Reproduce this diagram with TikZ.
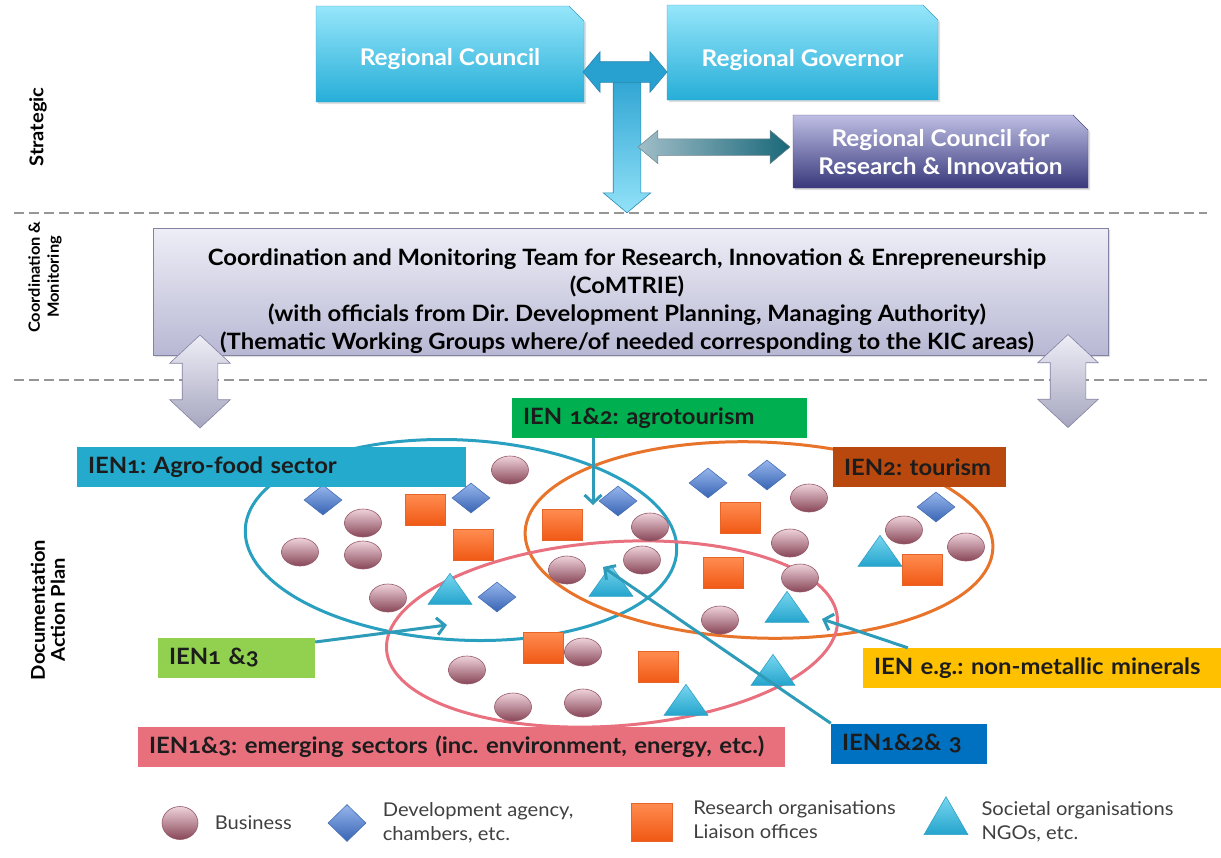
\documentclass[tikz,border=0pt]{standalone}
\usepackage{fontspec}
\setmainfont{Lato}[Numbers=OldStyle, FakeStretch=1.06]
\usepackage{tikz}
\usetikzlibrary{arrows.meta, positioning, shapes.geometric, shapes.misc, shapes.arrows, shadows}
\frenchspacing

\definecolor{cyantop}{RGB}{150,230,250}
\definecolor{cyanbot}{RGB}{38,174,216}
\definecolor{cyanedge}{RGB}{60,160,200}
\definecolor{purptop}{RGB}{190,190,228}
\definecolor{purpbot}{RGB}{56,56,124}
\definecolor{purpedge}{RGB}{80,80,130}
\definecolor{lavtop}{RGB}{238,238,247}
\definecolor{lavbot}{RGB}{184,184,212}
\definecolor{lavedge}{RGB}{130,130,162}
\definecolor{tdark}{RGB}{40,160,208}
\definecolor{tlight}{RGB}{146,226,248}
\definecolor{tedge}{RGB}{40,136,176}
\definecolor{rcleft}{RGB}{160,190,200}
\definecolor{rcmid}{RGB}{222,236,250}
\definecolor{rcright}{RGB}{26,104,122}
\definecolor{dashgray}{RGB}{150,150,150}
\definecolor{ienteal}{RGB}{36,170,204}
\definecolor{iengreen}{RGB}{0,176,80}
\definecolor{ienbrown}{RGB}{184,72,14}
\definecolor{ienlime}{RGB}{146,208,80}
\definecolor{ienyellow}{RGB}{255,192,0}
\definecolor{ienpink}{RGB}{232,112,124}
\definecolor{ienblue}{RGB}{0,112,192}
\definecolor{lbltext}{RGB}{28,28,28}
\definecolor{ringteal}{RGB}{42,160,192}
\definecolor{ringorange}{RGB}{232,115,42}
\definecolor{ringpink}{RGB}{232,112,127}
\definecolor{linkteal}{RGB}{46,156,184}
\definecolor{biztop}{RGB}{238,210,218}
\definecolor{bizbot}{RGB}{136,70,88}
\definecolor{bizedge}{RGB}{150,90,105}
\definecolor{agtop}{RGB}{150,182,236}
\definecolor{agbot}{RGB}{56,100,180}
\definecolor{agedge}{RGB}{70,110,180}
\definecolor{restop}{RGB}{255,140,80}
\definecolor{resbot}{RGB}{240,88,20}
\definecolor{resedge}{RGB}{230,100,40}
\definecolor{soctop}{RGB}{120,214,240}
\definecolor{socbot}{RGB}{36,164,204}
\definecolor{socedge}{RGB}{50,160,200}
\definecolor{legtext}{RGB}{64,64,64}

\tikzset{
  topbox/.style={chamfered rectangle, chamfered rectangle corners=north east,
    chamfered rectangle xsep=13pt, chamfered rectangle ysep=15pt, inner sep=0pt,
    align=center, text=white, font=\fontsize{23}{28}\selectfont\bfseries,
    drop shadow={opacity=0.25, shadow xshift=2pt, shadow yshift=-2pt}},
  seclbl/.style={rotate=90, align=center, font=\fontsize{19}{20}\selectfont\bfseries},
  sepline/.style={dashgray, line width=2.5pt, dash pattern=on 10pt off 5pt},
  ienlbl/.style={rectangle, minimum height=40pt, inner xsep=11pt, inner ysep=0pt,
    align=left, text=lbltext, font=\fontsize{22.5}{24}\selectfont\bfseries},
  ring/.style={ellipse, draw, line width=3pt, inner sep=0pt},
  link/.style={linkteal, line width=3pt, -{Straight Barb[length=8pt,width=17pt]}},
  bizdot/.style={ellipse, minimum width=37pt, minimum height=28pt, inner sep=0pt,
    top color=biztop, bottom color=bizbot, draw=bizedge, line width=0.6pt},
  agency/.style={diamond, minimum width=38pt, minimum height=30pt, inner sep=0pt,
    top color=agtop, bottom color=agbot, draw=agedge, line width=0.6pt},
  research/.style={rectangle, minimum width=40pt, minimum height=31pt, inner sep=0pt,
    top color=restop, bottom color=resbot, draw=resedge, line width=0.6pt},
  society/.style={isosceles triangle, isosceles triangle stretches, shape border rotate=90,
    minimum width=44pt, minimum height=31pt, inner sep=0pt,
    top color=soctop, bottom color=socbot, draw=socedge, line width=0.6pt},
  legtxt/.style={align=left, text=legtext, font=\fontsize{19}{24}\selectfont}
}

\begin{document}
\begin{tikzpicture}[x=1pt, y=-1pt]
  \useasboundingbox (0,0) rectangle (1221,857);

  % --- section labels and separators ---
  \node[seclbl] (lstrat) at (38,127) {Strategic};
  \node[seclbl, font=\fontsize{15.5}{19}\selectfont\bfseries] (lcoord) at (45,277) {Coordination \&\\Monitoring};
  \node[seclbl] (ldoc) at (48,610) {Documentation\\Action Plan};
  \draw[sepline] (14,213) -- (1207,213);
  \draw[sepline] (14,380) -- (1207,380);

  % --- Strategic level ---
  \node[topbox, top color=cyantop, bottom color=cyanbot, draw=cyanedge,
    minimum width=268pt, minimum height=96pt] (rc) at (450,54)
    {\raisebox{-11pt}[0pt][0pt]{Regional Council}};
  \node[topbox, top color=cyantop, bottom color=cyanbot, draw=cyanedge,
    minimum width=271pt, minimum height=95pt] (rg) at (802.5,52.5)
    {\raisebox{-13.5pt}[0pt][0pt]{Regional Governor}};
  \node[topbox, top color=purptop, bottom color=purpbot, draw=purpedge,
    minimum width=295pt, minimum height=73pt] (rcri) at (940.5,151.5)
    {\raisebox{-10pt}[0pt][0pt]{\begin{tabular}{@{}c@{}}Regional Council for\\Research \& Innovation\end{tabular}}};
  % T arrow between council and governor, down to the team
  \node[single arrow, shape border rotate=270, inner sep=13.5pt, single arrow head extend=10pt,
    single arrow tip angle=100, minimum height=144pt, top color=tdark, bottom color=tlight,
    draw=tedge, line width=0.6pt] (tstem) at (627,135) {};
  \node[double arrow, inner sep=10pt, double arrow head extend=10pt, double arrow tip angle=100,
    minimum height=84pt, fill=tdark, draw=tedge, line width=0.6pt] (tbar) at (625,72) {};
  \node[double arrow, inner sep=8pt, double arrow head extend=8.5pt, double arrow tip angle=80,
    minimum height=152pt, left color=rcleft, middle color=rcmid, right color=rcright,
    draw=rcleft!70!black, line width=0.5pt] (rcarrow) at (714,147) {};

  % --- Coordination & Monitoring ---
  \node[chamfered rectangle, chamfered rectangle corners=north east,
    chamfered rectangle xsep=20pt, chamfered rectangle ysep=19pt, inner sep=0pt,
    minimum width=955pt, minimum height=127pt, top color=lavtop, bottom color=lavbot,
    draw=lavedge, line width=0.6pt,
    drop shadow={opacity=0.25, shadow xshift=2pt, shadow yshift=-2pt}] (comtrie) at (630.5,291.5) {};
  \node[align=center, font=\fontsize{22.5}{28}\selectfont\bfseries] (comtrietxt) at (627,301)
    {Coordination and Monitoring Team for Research, Innovation \& Enrepreneurship\\
     (CoMTRIE)\\
     (with officials from Dir. Development Planning, Managing Authority)\\
     (Thematic Working Groups where/of needed corresponding to the KIC areas)};
  \node[double arrow, shape border rotate=90, inner sep=17.5pt, double arrow head extend=12.5pt,
    double arrow tip angle=94, minimum height=93pt, top color=lavtop, bottom color=lavbot!90!black,
    draw=lavedge, line width=0.6pt] (gleft) at (200,381.5) {};
  \node[double arrow, shape border rotate=90, inner sep=17.5pt, double arrow head extend=12.5pt,
    double arrow tip angle=94, minimum height=93pt, top color=lavtop, bottom color=lavbot!90!black,
    draw=lavedge, line width=0.6pt] (gright) at (1068,381) {};

  % --- Documentation / Action Plan ---
  \node[ring, draw=ringteal, minimum width=432pt, minimum height=200pt, rotate=-3] (ring1) at (461,540) {};
  \node[ring, draw=ringorange, minimum width=468pt, minimum height=196pt, rotate=-2] (ring2) at (759,540) {};
  \node[ring, draw=ringpink, minimum width=452pt, minimum height=184pt, rotate=4] (ring3) at (612,634) {};

  \foreach \p [count=\i] in {(510,470),(363,523),(300,552),(363,555),(388,598),(650,527),
      (642,560),(567,570),(809,498),(790,543),(800,578),(720,620),(904,530),(966,547),
      (583,652),(467,670),(513,707),(583,703)}
    \node[bizdot] (biz\i) at \p {};
  \foreach \p [count=\i] in {(323,500),(471,498),(618,501),(497,597),(708,483),(767,475),(936,507)}
    \node[agency] (ag\i) at \p {};
  \foreach \p [count=\i] in {(425,510),(473,545),(562,525),(740,518),(723,573),(543,648),(658,667),(922,570)}
    \node[research] (res\i) at \p {};
  \foreach \p [count=\i] in {(450,593),(611,585),(787,611),(773,674),(686,704),(880,555)}
    \node[society] (soc\i) at \p {};

  % labels
  \node[ienlbl, fill=iengreen, text width=273pt] (agro) at (659.5,418) {IEN 1\&2: agrotourism};
  \node[ienlbl, fill=ienteal, text width=367pt] (ien1) at (271.5,467) {IEN1: Agro-food sector};
  \node[ienlbl, fill=ienbrown, text width=151pt] (ien2) at (919.5,467) {IEN2: tourism};
  \node[ienlbl, fill=ienlime, text width=135pt] (i13) at (236.5,658) {IEN1 \&3};
  \node[ienlbl, fill=ienyellow, text width=336pt] (minerals) at (1042,668) {IEN e.g.: non-metallic minerals};
  \node[ienlbl, fill=ienpink, text width=625pt] (emerg) at (461.5,747) {IEN1\&3: emerging sectors (inc. environment, energy, etc.)};
  \node[ienlbl, fill=ienblue, text width=134pt] (i123) at (909,743.5) {IEN1\&2\& 3};

  % arrows to the overlaps
  \coordinate (tipagro) at (593,505);
  \coordinate (tipi13) at (447,625);
  \coordinate (tipmin) at (822,619);
  \coordinate (tipall) at (603,567);
  \draw[link] (agro.south -| tipagro) -- (tipagro);
  \draw[link] ([yshift=16pt]i13.east) -- (tipi13);
  \draw[link] ([xshift=45pt]minerals.north west) -- (tipmin);
  \draw[link] (i123.north west) -- (tipall);

  % --- legend ---
  \node[bizdot, minimum width=36pt, minimum height=33pt] (legbiz) at (180,823) {};
  \node[legtxt, right=13pt of legbiz] (legbiztxt) {Business};
  \node[agency, minimum width=38pt, minimum height=37pt] (legag) at (347,823) {};
  \node[legtxt, right=13pt of legag] (legagtxt) {Development agency,\\chambers, etc.};
  \node[research, minimum width=41pt, minimum height=38pt] (legres) at (652,822) {};
  \node[legtxt, right=17pt of legres, yshift=2pt] (legrestxt) {Research organisations\\Liaison offices};
  \node[society, minimum width=44pt, minimum height=38pt] (legsoc) at (946,822) {};
  \node[legtxt, right=17pt of legsoc] (legsoctxt) {Societal organisations\\NGOs, etc.};
\end{tikzpicture}
\end{document}
